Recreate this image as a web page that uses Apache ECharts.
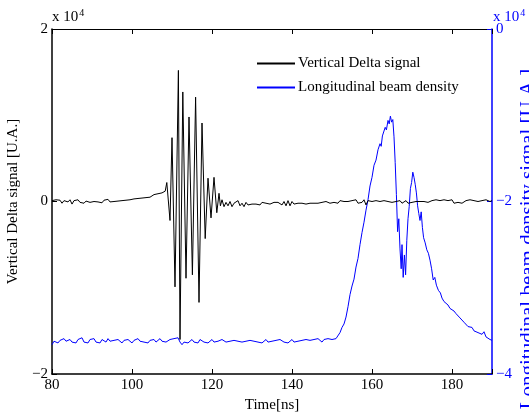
<!DOCTYPE html>
<html>
<head>
<meta charset="utf-8">
<script src="https://cdn.jsdelivr.net/npm/echarts@6/dist/echarts.min.js"></script>
<style>
html,body{margin:0;padding:0;background:#fff;}
#c{width:529px;height:414px;}
</style>
</head>
<body>
<div id="c"></div>
<script>
// ---- Data (values in units of 10^4) ----
const xTicks = [80, 100, 120, 140, 160, 180];
const leftTicks = [-2, 0, 2];
const rightTicks = [-4, -2, 0];
const seriesNames = ['Vertical Delta signal', 'Longitudinal beam density'];

// Vertical Delta signal: pre-burst samples, 80 ns .. 108 ns every 0.5 ns
const deltaPreStart = 80, deltaStep = 0.5;
const deltaPre = [0.01,-0.01,0.02,0.0,0.015,-0.02,0.01,0.025,-0.005,0.02,
  -0.03,0.01,0.0,0.02,-0.01,0.01,-0.02,0.005,0.015,-0.01,
  0.01,0.0,0.02,-0.005,0.01,-0.015,0.015,0.0,0.025,-0.005,
  0.01,0.0,0.02,0.005,0.025,0.01,0.03,0.015,0.035,0.02,
  0.04,0.03,0.05,0.035,0.055,0.04,0.06,0.045,0.065,0.05,
  0.07,0.08,0.06,0.09,0.07,0.1,0.08];
// burst (time, value)
const deltaBurstT = [108.3,108.7,109.5,110.0,110.75,111.6,112.0,112.7,113.5,114.25,115.1,115.9,116.75,117.5,118.3,119.0,119.75,120.5,121.2,121.75,122.1];
const deltaBurstV = [0.12,0.22,-0.22,0.74,-0.99,1.52,-1.60,1.27,-0.89,0.98,-0.85,1.21,-1.17,0.91,-0.43,0.27,-0.19,0.28,-0.13,0.095,-0.05];
// post-burst samples, 122.5 ns .. 190 ns every 0.5 ns
const deltaPostStart = 122.5;
const deltaPost = [0.02,-0.06,-0.01,-0.05,0.0,-0.06,-0.02,-0.04,0.01,-0.05,-0.02,-0.06,-0.01,-0.04,-0.02,-0.03,-0.01,-0.03,-0.02,-0.04,
  -0.01,-0.03,-0.02,-0.01,-0.03,-0.02,-0.01,-0.03,-0.01,-0.02,-0.04,0.0,-0.05,0.01,-0.05,0.0,-0.03,-0.01,-0.02,-0.01,
  -0.02,-0.01,-0.03,-0.01,-0.02,0.0,-0.02,-0.01,-0.02,0.0,-0.01,-0.02,0.0,-0.01,-0.02,0.0,-0.01,0.0,-0.02,0.01,
  -0.01,0.0,-0.02,0.0,-0.01,0.01,-0.01,0.02,-0.02,0.0,-0.01,0.02,-0.04,0.01,-0.01,0.0,-0.02,0.01,-0.01,0.0,
  -0.01,0.01,-0.01,0.0,0.01,-0.01,0.01,0.0,-0.01,0.01,-0.02,0.0,0.01,-0.02,0.0,-0.01,-0.03,0.0,-0.01,0.0,
  -0.01,0.0,0.01,-0.01,0.0,0.01,-0.01,0.02,0.0,0.01,-0.01,0.02,0.0,0.01,-0.01,0.02,-0.02,0.0,-0.01,0.01,
  -0.02,0.0,0.01,-0.01,0.02,0.0,0.01,0.03,0.0,0.02,0.01,0.03,0.02,0.01,0.0,0.01];

// Longitudinal beam density: baseline 80 ns .. 151 ns every 0.5 ns
const densBaseStart = 80, densStep = 0.5;
const densBase = [-3.66,-3.62,-3.60,-3.64,-3.61,-3.63,-3.59,-3.62,-3.64,-3.60,
  -3.63,-3.61,-3.64,-3.60,-3.62,-3.58,-3.63,-3.61,-3.64,-3.60,
  -3.62,-3.59,-3.63,-3.61,-3.64,-3.60,-3.62,-3.63,-3.59,-3.62,
  -3.64,-3.61,-3.63,-3.60,-3.62,-3.64,-3.61,-3.63,-3.60,-3.62,
  -3.64,-3.61,-3.63,-3.59,-3.62,-3.60,-3.63,-3.61,-3.64,-3.61,
  -3.62,-3.60,-3.63,-3.61,-3.59,-3.62,-3.60,-3.63,-3.61,-3.60,
  -3.62,-3.59,-3.60,-3.58,-3.63,-3.66,-3.63,-3.61,-3.64,-3.62,
  -3.60,-3.63,-3.61,-3.64,-3.60,-3.62,-3.63,-3.61,-3.64,-3.62,
  -3.60,-3.63,-3.61,-3.62,-3.64,-3.60,-3.62,-3.63,-3.61,-3.62,
  -3.64,-3.61,-3.63,-3.62,-3.60,-3.63,-3.61,-3.62,-3.64,-3.61,
  -3.63,-3.62,-3.60,-3.63,-3.61,-3.64,-3.62,-3.60,-3.63,-3.61,
  -3.62,-3.64,-3.61,-3.63,-3.60,-3.62,-3.63,-3.61,-3.64,-3.62,
  -3.60,-3.63,-3.61,-3.62,-3.64,-3.61,-3.63,-3.60,-3.62,-3.61,
  -3.63,-3.60,-3.62,-3.59,-3.61,-3.63,-3.60,-3.62,-3.59,-3.61,
  -3.60,-3.58,-3.59];
// pulse (time, value)
const densPulseT = [151.5,152,152.5,153,153.5,154,154.5,155,155.5,156,156.5,157,157.5,158,158.5,159,159.5,160,160.5,161,161.5,162,162.3,162.6,163,163.3,163.6,164,164.3,164.6,164.9,165.2,165.5,165.8,166.1,166.4,166.7,167.0,167.3,167.5,167.8,168.1,168.4,168.7,169.0,169.3,169.6,169.9,170.2,170.5,170.8,171.1,171.4,171.7,172.0,172.3,172.6,172.9,173.3,173.7,174.1,174.5,174.9,175.3,175.7,176.1,176.6,177.1,177.5,178];
const densPulseV = [-3.57,-3.52,-3.46,-3.42,-3.34,-3.22,-3.08,-2.98,-2.90,-2.76,-2.66,-2.50,-2.36,-2.24,-2.10,-1.98,-1.82,-1.72,-1.58,-1.52,-1.40,-1.33,-1.36,-1.24,-1.22,-1.14,-1.17,-1.06,-1.10,-1.01,-1.08,-1.05,-1.25,-1.55,-1.92,-2.35,-2.20,-2.55,-2.78,-2.50,-2.88,-2.62,-2.85,-2.45,-2.20,-2.06,-1.85,-1.78,-1.66,-1.72,-1.80,-1.90,-2.05,-2.14,-2.22,-2.12,-2.30,-2.42,-2.48,-2.56,-2.60,-2.68,-2.78,-2.91,-2.88,-2.97,-3.03,-3.06,-3.12,-3.16];
// tail 178.5 ns .. 190 ns every 0.5 ns
const densTailStart = 178.5;
const densTail = [-3.18,-3.20,-3.24,-3.25,-3.27,-3.30,-3.31,-3.35,-3.36,-3.40,-3.42,-3.45,-3.47,-3.46,-3.50,-3.48,-3.52,-3.50,-3.54,-3.51,-3.57,-3.55,-3.60,-3.61];

// ---- build series data ----
function sampled(start, step, vals) { return vals.map((v, i) => [start + i * step, v]); }
function paired(ts, vs) { return ts.map((t, i) => [t, vs[i]]); }
const deltaData = sampled(deltaPreStart, deltaStep, deltaPre)
  .concat(paired(deltaBurstT, deltaBurstV))
  .concat(sampled(deltaPostStart, deltaStep, deltaPost));
const densData = sampled(densBaseStart, densStep, densBase)
  .concat(paired(densPulseT, densPulseV))
  .concat(sampled(densTailStart, densStep, densTail));

const FONT = 'Liberation Serif';
const BLUE = '#0000ff';
const minus = v => String(v).replace('-', '\u2212');

const chart = echarts.init(document.getElementById('c'), null, {renderer: 'canvas'});
chart.setOption({
  animation: false,
  backgroundColor: '#fff',
  textStyle: {fontFamily: FONT},
  grid: {left: 52, right: 37, top: 29, bottom: 40, containLabel: false, outerBoundsMode: 'none'},
  legend: {
    left: 252, top: 51, orient: 'vertical', itemWidth: 38, itemHeight: 2, itemGap: 9,
    icon: 'rect',
    textStyle: {fontFamily: FONT, fontSize: 15, color: '#000', padding: [0, 0, 0, -2]},
    data: seriesNames
  },
  xAxis: [{
    type: 'value', min: 80, max: 190, interval: 20, position: 'bottom',
    axisLine: {show: true, onZero: false, lineStyle: {color: '#000', width: 1.5}},
    axisTick: {show: true, inside: true, length: 5, lineStyle: {color: '#000'}},
    axisLabel: {fontFamily: FONT, fontSize: 15, color: '#000', margin: 4,
      formatter: v => xTicks.includes(v) ? String(v) : ''},
    splitLine: {show: false},
    name: 'Time[ns]', nameLocation: 'middle', nameGap: 24,
    nameTextStyle: {fontFamily: FONT, fontSize: 15, color: '#000'}
  }, {
    type: 'value', min: 80, max: 190, interval: 20, position: 'top',
    axisLine: {show: true, onZero: false, lineStyle: {color: '#000', width: 1}},
    axisTick: {show: true, inside: true, length: 5, lineStyle: {color: '#000'}},
    axisLabel: {show: false}, splitLine: {show: false}
  }],
  yAxis: [{
    type: 'value', min: -2, max: 2, interval: 2, position: 'left',
    axisLine: {show: true, onZero: false, lineStyle: {color: '#000', width: 1.5}},
    axisTick: {show: true, inside: true, length: 5, lineStyle: {color: '#000'}},
    axisLabel: {fontFamily: FONT, fontSize: 15, color: '#000', margin: 4,
      formatter: v => leftTicks.includes(v) ? minus(v) : ''},
    splitLine: {show: false},
    name: 'Vertical Delta signal [U.A.]', nameLocation: 'middle', nameGap: 31,
    nameTextStyle: {fontFamily: FONT, fontSize: 15, color: '#000'}
  }, {
    type: 'value', min: -4, max: 0, interval: 2, position: 'right',
    axisLine: {show: true, onZero: false, lineStyle: {color: BLUE, width: 1.5}},
    axisTick: {show: true, inside: true, length: 5, lineStyle: {color: BLUE}},
    axisLabel: {fontFamily: FONT, fontSize: 15, color: BLUE, margin: 4,
      formatter: v => rightTicks.includes(v) ? minus(v) : ''},
    splitLine: {show: false}
  }],
  graphic: [
    {type: 'text', left: 52, top: 8, style: {
      rich: {a: {fontFamily: FONT, fontSize: 15, fill: '#000'}, s: {fontFamily: FONT, fontSize: 10, fill: '#000', verticalAlign: 'top', padding: [0,0,8,1]}},
      text: '{a|x 10}{s|4}'}},
    {type: 'text', left: 493, top: 8, style: {
      rich: {a: {fontFamily: FONT, fontSize: 15, fill: BLUE}, s: {fontFamily: FONT, fontSize: 10, fill: BLUE, verticalAlign: 'top', padding: [0,0,8,1]}},
      text: '{a|x 10}{s|4}'}},
    {type: 'text', x: 528, y: 239, rotation: Math.PI / 2, style: {
      text: 'Longitudinal beam density signal [U.A.]', fontFamily: FONT, fontSize: 21,
      fill: BLUE, align: 'center', verticalAlign: 'middle'}}
  ],
  series: [{
    name: seriesNames[0], type: 'line', xAxisIndex: 0, yAxisIndex: 0,
    data: deltaData, showSymbol: false, symbol: 'none', sampling: null,
    lineStyle: {color: '#000', width: 1}, itemStyle: {color: '#000'}, z: 3
  }, {
    name: seriesNames[1], type: 'line', xAxisIndex: 0, yAxisIndex: 1,
    data: densData, showSymbol: false, symbol: 'none',
    lineStyle: {color: BLUE, width: 1}, itemStyle: {color: BLUE}, z: 2
  }]
});
</script>
</body>
</html>
